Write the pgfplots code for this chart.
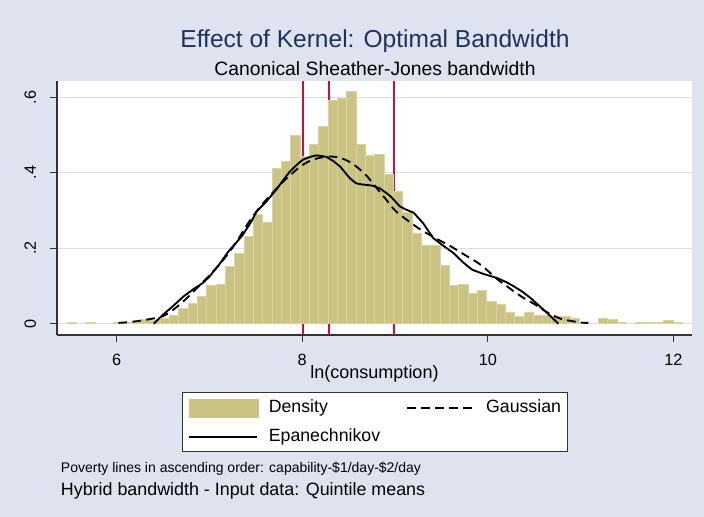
\documentclass[border=0pt]{standalone}
\usepackage{fontspec}
\setmainfont{Liberation Sans}
\usepackage{pgfplots}
\pgfplotsset{compat=1.18}
\definecolor{bgc}{RGB}{222,227,239}
\definecolor{khaki}{RGB}{202,195,131}
\definecolor{khakiline}{RGB}{217,211,162}
\definecolor{gridc}{RGB}{214,222,236}
\definecolor{redl}{RGB}{200,16,60}
\definecolor{titlec}{RGB}{30,50,95}
\begin{document}
\begin{tikzpicture}[x=0.75pt,y=0.75pt]
\path[use as bounding box, fill=bgc] (0,0) rectangle (704,517);
\begin{axis}[
  at={(42.75pt,136.5pt)}, anchor=south west,
  width=476.25pt, height=190.5pt, scale only axis,
  xmin=5.357, xmax=12.2, ymin=-0.030, ymax=0.643,
  axis background/.style={fill=white},
  axis x line*=bottom, axis y line*=left,
  axis line style={color=black!80, line width=0.8pt, -},
  xtick={6,8,10,12}, xticklabels={6,8,10,12},
  ytick={0,0.2,0.4,0.6}, yticklabels={0,.2,.4,.6},
  tick align=outside, major tick length=5.2pt,
  tick style={color=black!80, line width=0.8pt},
  xticklabel style={anchor=base, font=\fontsize{12.2}{14}\selectfont},
  xticklabel shift=17.5pt,
  yticklabel style={rotate=90, anchor=base, font=\fontsize{12.2}{14}\selectfont},
  yticklabel shift=10.7pt,
  ymajorgrids, grid style={color=gridc, line width=0.8pt},
  xlabel={ln(consumption)},
  xlabel style={at={(axis description cs:0.5,-0.1705)}, anchor=base, font=\fontsize{13.5}{15}\selectfont},
  legend columns=2, legend cell align=left,
  legend style={at={(axis description cs:0.1969,-0.2233)}, anchor=north west,
    draw=black!80, line width=0.6pt, fill=white, inner xsep=4.5pt, inner ysep=4.8pt,
    row sep=8.25pt, font=\fontsize{13.3}{15}\selectfont,
    nodes={inner sep=0pt, text height=9.75pt, text depth=3pt},
    /tikz/every odd column/.append style={column sep=7.5pt},
    /tikz/column 2/.append style={column sep=19.5pt}},
]
\addplot[forget plot, redl, line width=1.3pt] coordinates {(8.005,-0.03) (8.005,0.643)};
\addplot[forget plot, redl, line width=1.3pt] coordinates {(8.289,-0.03) (8.289,0.643)};
\addplot[forget plot, redl, line width=1.3pt] coordinates {(8.99,-0.03) (8.99,0.643)};
\addplot[ybar, bar width=0.1005, bar shift=0pt, fill=khaki, draw=khakiline, line width=0.7pt,
  legend image code/.code={\fill[khaki] (0pt,-6.75pt) rectangle (51.75pt,6.75pt);}]
coordinates {
(5.515,0.004) (5.716,0.004) (6.0175,0.002) (6.118,0.003) (6.2185,0.006) (6.319,0.011)
(6.4195,0.008) (6.52,0.014) (6.6205,0.023) (6.721,0.041) (6.8215,0.053) (6.922,0.071)
(7.0225,0.102) (7.123,0.105) (7.2235,0.152) (7.324,0.186) (7.4245,0.232) (7.525,0.290)
(7.6255,0.267) (7.726,0.410) (7.8265,0.431) (7.927,0.498) (8.0275,0.444) (8.128,0.474)
(8.2285,0.522) (8.329,0.592) (8.4295,0.597) (8.53,0.614) (8.6305,0.474) (8.731,0.445)
(8.8315,0.447) (8.932,0.395) (9.0325,0.351) (9.133,0.295) (9.2335,0.239) (9.334,0.208)
(9.4345,0.208) (9.535,0.155) (9.6355,0.102) (9.736,0.103) (9.8365,0.081) (9.937,0.088)
(10.0375,0.059) (10.138,0.050) (10.2385,0.031) (10.339,0.018) (10.4395,0.031) (10.54,0.023)
(10.6405,0.021) (10.741,0.018) (10.8415,0.018) (10.942,0.014) (11.0425,0.004)
(11.2435,0.014) (11.344,0.011) (11.4445,0.004) (11.6455,0.003) (11.746,0.003)
(11.8465,0.003) (11.947,0.009) (12.0475,0.004)
};
\addplot[black, line width=1.4pt, dash pattern=on 6.5pt off 4pt, smooth,
  legend image code/.code={\draw[black, line width=1.4pt, dash pattern=on 6.5pt off 4pt] (0pt,0pt) -- (51pt,0pt);}]
coordinates {
(6.02,0.002) (6.2,0.006) (6.4,0.014) (6.5,0.020) (6.6,0.035) (6.7,0.055) (6.8,0.078)
(6.9,0.103) (7.0,0.128) (7.1,0.155) (7.2,0.185) (7.3,0.220) (7.4,0.260) (7.5,0.295)
(7.6,0.325) (7.7,0.352) (7.8,0.378) (7.9,0.400) (8.0,0.420) (8.1,0.433) (8.2,0.440)
(8.3,0.443) (8.4,0.440) (8.5,0.430) (8.6,0.413) (8.7,0.390) (8.8,0.360) (8.9,0.330)
(9.0,0.300) (9.1,0.280) (9.2,0.262) (9.3,0.245) (9.4,0.232) (9.5,0.218) (9.6,0.205)
(9.7,0.190) (9.8,0.175) (9.9,0.160) (10.0,0.140) (10.1,0.118) (10.2,0.100) (10.3,0.082)
(10.4,0.066) (10.5,0.052) (10.6,0.036) (10.7,0.022) (10.8,0.012) (10.9,0.007) (11.0,0.003)
(11.08,0.002)
};
\addplot[black, line width=1.4pt,
  legend image code/.code={\draw[black, line width=1.4pt] (0pt,0pt) -- (51pt,0pt);}]
coordinates {
(6.40,0.0) (6.45,0.012) (6.5,0.024) (6.6,0.045) (6.72,0.072) (6.83,0.092) (6.93,0.108)
(7.0,0.125) (7.1,0.155) (7.2,0.190) (7.3,0.218) (7.35,0.232) (7.45,0.270) (7.51,0.298)
(7.6,0.320) (7.72,0.355) (7.8,0.382) (7.87,0.404) (7.95,0.423) (8.01,0.435) (8.1,0.443)
(8.16,0.446) (8.26,0.442) (8.34,0.430) (8.41,0.416) (8.51,0.386) (8.58,0.372) (8.64,0.369)
(8.75,0.366) (8.84,0.358) (8.95,0.338) (9.05,0.311) (9.12,0.302) (9.20,0.294) (9.30,0.267)
(9.41,0.227) (9.5,0.210) (9.63,0.187) (9.73,0.163) (9.83,0.143) (9.95,0.132) (10.10,0.121)
(10.2,0.110) (10.28,0.099) (10.37,0.085) (10.46,0.068) (10.55,0.048) (10.64,0.028) (10.76,0.0)
};
\legend{Density, Gaussian, Epanechnikov}
\end{axis}
\node[anchor=base, font=\fontsize{18.4}{22}\selectfont, text=titlec] at (375,469.5) {Effect of Kernel: Optimal Bandwidth};
\node[anchor=base, font=\fontsize{14.5}{17}\selectfont] at (375,441.3) {Canonical Sheather-Jones bandwidth};
\node[anchor=base west, inner sep=0pt, font=\fontsize{10.5}{12}\selectfont] at (60.7,44.3) {Poverty lines in ascending order: capability-\$1/day-\$2/day};
\node[anchor=base west, inner sep=0pt, font=\fontsize{13.4}{16}\selectfont] at (60.7,21.3) {Hybrid bandwidth - Input data: Quintile means};
\end{tikzpicture}
\end{document}
